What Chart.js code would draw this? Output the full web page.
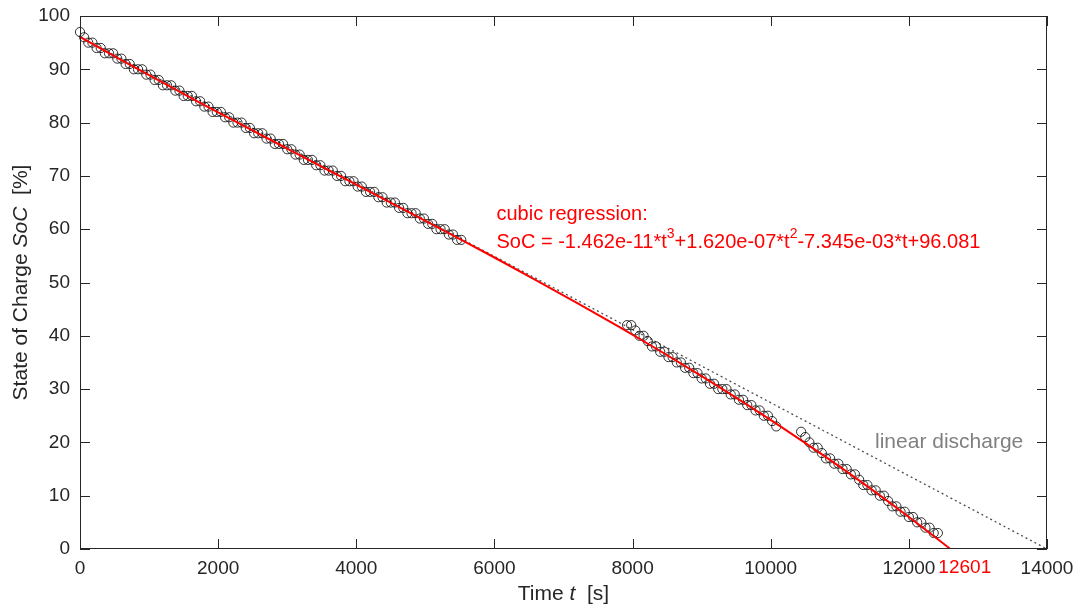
<!DOCTYPE html>
<html>
<head>
<meta charset="utf-8">
<script src="https://cdn.jsdelivr.net/npm/chart.js@4/dist/chart.umd.min.js"></script>
<style>
  html, body { margin: 0; padding: 0; background: #fff; }
  #socChart { display: block; }
</style>
</head>
<body>
<canvas id="socChart" width="1085" height="610"></canvas>
<script>
// measured state of charge (three logging runs)
const timeS = [
  0, 60, 120, 180, 240, 300, 360, 420, 480, 540, 600, 660, 720, 780, 840, 900, 960, 1020, 1080, 1140,
  1200, 1260, 1320, 1380, 1440, 1500, 1560, 1620, 1680, 1740, 1800, 1860, 1920, 1980, 2040, 2100, 2160, 2220, 2280, 2340,
  2400, 2460, 2520, 2580, 2640, 2700, 2760, 2820, 2880, 2940, 3000, 3060, 3120, 3180, 3240, 3300, 3360, 3420, 3480, 3540,
  3600, 3660, 3720, 3780, 3840, 3900, 3960, 4020, 4080, 4140, 4200, 4260, 4320, 4380, 4440, 4500, 4560, 4620, 4680, 4740,
  4800, 4860, 4920, 4980, 5040, 5100, 5160, 5220, 5280, 5340, 5400, 5460, 5520,
  7920, 7980, 8040, 8100, 8160, 8220, 8280, 8340, 8400, 8460, 8520, 8580, 8640, 8700, 8760, 8820, 8880, 8940, 9000, 9060,
  9120, 9180, 9240, 9300, 9360, 9420, 9480, 9540, 9600, 9660, 9720, 9780, 9840, 9900, 9960, 10020, 10080,
  10440, 10500, 10560, 10620, 10680, 10740, 10800, 10860, 10920, 10980, 11040, 11100, 11160, 11220, 11280, 11340, 11400,
  11460, 11520, 11580, 11640, 11700, 11760, 11820, 11880, 11940, 12000, 12060, 12120, 12180, 12240, 12300, 12360, 12420
];
const socPct = [
  97, 96, 95, 95, 94, 94, 93, 93, 93, 92, 92, 91, 91, 90, 90, 90, 89, 89, 88, 88,
  87, 87, 87, 86, 86, 85, 85, 85, 84, 84, 83, 83, 82, 82, 82, 81, 81, 80, 80, 80,
  79, 79, 78, 78, 78, 77, 77, 76, 76, 76, 75, 75, 74, 74, 73, 73, 73, 72, 72, 71,
  71, 71, 70, 70, 69, 69, 69, 68, 68, 67, 67, 67, 66, 66, 65, 65, 65, 64, 64, 63,
  63, 63, 62, 62, 61, 61, 60, 60, 60, 59, 59, 58, 58,
  42, 42, 41, 40, 40, 39, 38, 38, 37, 37, 36, 36, 35, 35, 34, 34, 33, 33, 32, 32,
  31, 31, 30, 30, 30, 29, 29, 28, 28, 27, 27, 26, 26, 25, 25, 24, 23,
  22, 21, 20, 19, 19, 18, 17, 17, 16, 16, 15, 15, 14, 14, 13, 12, 12,
  11, 11, 10, 10, 9, 8, 8, 7, 7, 6, 6, 5, 5, 4, 4, 3, 3
];

// cubic regression curve
const fitT = [0, 600, 1200, 1800, 2400, 3000, 3600, 4200, 4800, 5400, 6000, 6600, 7200, 7800, 8400, 9000, 9600, 10200, 10800, 11400, 12000, 12601];
const fitSoC = [96.08, 91.73, 87.48, 83.30, 79.18, 75.11, 71.06, 67.01, 62.94, 58.84, 54.69, 50.46, 46.14, 41.71, 37.15, 32.44, 27.56, 22.50, 17.23, 11.74, 6.01, 0];

// linear discharge reference
const linT = [0, 14000];
const linSoC = [96.08, 0];

const xTicks = [0, 2000, 4000, 6000, 8000, 10000, 12000, 14000];
const yTicks = [0, 10, 20, 30, 40, 50, 60, 70, 80, 90, 100];
const emptyT = 12601;

const FONT = '"Liberation Sans", Arial, Helvetica, sans-serif';
const AXIS_COL = '#262626';

const toXY = (xs, ys) => xs.map((v, i) => ({ x: v, y: ys[i] }));

// draws a row of text pieces (italic / superscript allowed)
function drawRich(ctx, parts, x, y, size, align) {
    const fontOf = (p) => (p.italic ? 'italic ' : '') + (p.sup ? Math.round(size * 0.68) : size) + 'px ' + FONT;
    let total = 0;
    parts.forEach(p => { ctx.font = fontOf(p); total += ctx.measureText(p.text).width; });
    let cx = align === 'center' ? x - total / 2 : x;
    ctx.textAlign = 'left';
    ctx.textBaseline = 'middle';
    parts.forEach(p => {
        ctx.font = fontOf(p);
        ctx.fillText(p.text, cx, p.sup ? y - size * 0.42 : y);
        cx += ctx.measureText(p.text).width;
    });
}

const decor = {
    id: 'decor',
    afterDraw(chart) {
        const { ctx, chartArea: a, scales: { x, y } } = chart;
        ctx.save();
        ctx.strokeStyle = AXIS_COL;
        ctx.lineWidth = 1;
        ctx.strokeRect(a.left + 0.5, a.top + 0.5, a.right - a.left - 1, a.bottom - a.top - 1);

        // inward ticks on all four sides
        const len = 10;
        ctx.beginPath();
        xTicks.forEach(v => {
            const px = Math.round(x.getPixelForValue(v)) + 0.5;
            ctx.moveTo(px, a.bottom); ctx.lineTo(px, a.bottom - len);
            ctx.moveTo(px, a.top); ctx.lineTo(px, a.top + len);
        });
        yTicks.forEach(v => {
            const py = Math.round(y.getPixelForValue(v)) + 0.5;
            ctx.moveTo(a.left, py); ctx.lineTo(a.left + len, py);
            ctx.moveTo(a.right, py); ctx.lineTo(a.right - len, py);
        });
        ctx.stroke();

        // time when the battery is empty
        ctx.fillStyle = '#ff0000';
        ctx.font = '19px ' + FONT;
        ctx.textAlign = 'left';
        ctx.textBaseline = 'top';
        ctx.fillText(String(emptyT), x.getPixelForValue(emptyT) - 12, a.bottom + 9);

        // axis titles
        ctx.fillStyle = AXIS_COL;
        drawRich(ctx, [{ text: 'Time ' }, { text: 't', italic: true }, { text: '  [s]' }],
            (a.left + a.right) / 2, a.bottom + 45, 21, 'center');
        ctx.save();
        ctx.translate(21, (a.top + a.bottom) / 2);
        ctx.rotate(-Math.PI / 2);
        drawRich(ctx, [{ text: 'State of Charge ' }, { text: 'SoC', italic: true }, { text: '  [%]' }],
            0, 0, 21, 'center');
        ctx.restore();

        // regression label
        ctx.fillStyle = '#ff0000';
        const lx = x.getPixelForValue(6030);
        drawRich(ctx, [{ text: 'cubic regression:' }], lx, y.getPixelForValue(62.8), 20, 'left');
        drawRich(ctx, [
            { text: 'SoC = -1.462e-11*t' }, { text: '3', sup: true },
            { text: '+1.620e-07*t' }, { text: '2', sup: true },
            { text: '-7.345e-03*t+96.081' }
        ], lx, y.getPixelForValue(57.5), 20, 'left');

        ctx.fillStyle = '#808080';
        drawRich(ctx, [{ text: 'linear discharge' }], x.getPixelForValue(11510), y.getPixelForValue(20.1), 21, 'left');
        ctx.restore();
    }
};

const ctx = document.getElementById('socChart').getContext('2d');
const chart = new Chart(ctx, {
    type: 'scatter',
    data: {
        datasets: [
            {
                label: 'linear discharge',
                data: toXY(linT, linSoC),
                showLine: true,
                borderColor: '#4d4d4d',
                borderWidth: 1.3,
                borderDash: [2, 3],
                pointRadius: 0,
                order: 3
            },
            {
                label: 'measured',
                data: toXY(timeS, socPct),
                showLine: false,
                clip: false,
                pointRadius: 4.6,
                pointBorderWidth: 1,
                pointBorderColor: 'rgba(0,0,0,0.8)',
                pointBackgroundColor: 'rgba(0,0,0,0)',
                order: 2
            },
            {
                label: 'cubic regression',
                data: toXY(fitT, fitSoC),
                showLine: true,
                borderColor: '#ff0000',
                borderWidth: 2,
                cubicInterpolationMode: 'monotone',
                pointRadius: 0,
                order: 1
            }
        ]
    },
    options: {
        responsive: false,
        animation: false,
        events: [],
        layout: { autoPadding: false, padding: { left: 0, right: 38, top: 16, bottom: 0 } },
        plugins: { legend: { display: false }, tooltip: { enabled: false } },
        scales: {
            x: {
                type: 'linear', min: 0, max: 14000,
                afterBuildTicks: (s) => { s.ticks = xTicks.map(v => ({ value: v })); },
                afterFit: (s) => { s.height = 61; s.paddingLeft = 0; s.paddingRight = 0; },
                ticks: {
                    color: AXIS_COL, font: { family: FONT, size: 19 }, padding: 8,
                    maxRotation: 0, autoSkip: false, callback: (v) => String(v)
                },
                grid: { display: false, drawTicks: false },
                border: { display: false }
            },
            y: {
                min: 0, max: 100,
                afterBuildTicks: (s) => { s.ticks = yTicks.map(v => ({ value: v })); },
                afterFit: (s) => { s.width = 80; s.paddingTop = 0; s.paddingBottom = 0; },
                ticks: { color: AXIS_COL, font: { family: FONT, size: 19 }, padding: 10, callback: (v) => String(v) },
                grid: { display: false, drawTicks: false },
                border: { display: false }
            }
        }
    },
    plugins: [decor]
});
</script>
</body>
</html>
